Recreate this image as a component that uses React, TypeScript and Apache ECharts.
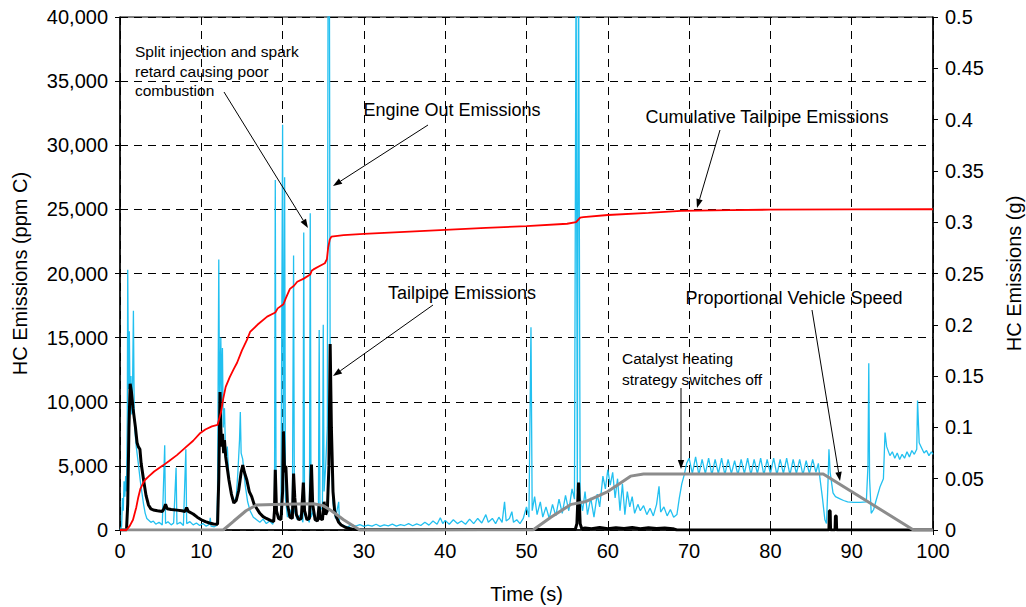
import React, { useEffect, useRef } from "react";
import * as echarts from "echarts";

// Engine out HC (ppm C) : [time s, value]
const engineOut: [number, number][] = [
  [0, 0], [0.2, 300], [0.3, 2500], [0.4, 1500], [0.5, 3800], [0.6, 2600], [0.7, 4200], [0.8, 3000],
  [0.9, 9000], [0.95, 20300], [1.05, 11000], [1.15, 15500], [1.25, 9500], [1.35, 12000], [1.45, 9000],
  [1.55, 11500], [1.65, 17100], [1.75, 9000], [1.85, 7600], [2.0, 6500], [2.25, 5200], [2.5, 3800],
  [2.7, 2900], [2.9, 2000], [3.1, 1300], [3.3, 900], [3.5, 780], [3.8, 600], [4.1, 700], [4.4, 450],
  [4.8, 600], [5.2, 400], [5.5, 6600], [5.6, 500], [5.9, 650], [6.3, 400], [6.6, 550], [6.9, 4850],
  [7.0, 450], [7.4, 600], [7.8, 350], [8.1, 6300], [8.2, 500], [8.6, 650], [9.0, 400], [9.4, 550],
  [9.8, 350], [10.2, 500], [10.6, 300], [11.0, 450], [11.1, 950], [11.2, 300], [11.6, 250], [11.9, 350],
  [12.0, 3000], [12.15, 21100], [12.25, 9000], [12.4, 15000], [12.5, 10000], [12.6, 14200], [12.7, 8000],
  [12.85, 9500], [13.0, 5500], [13.2, 6500], [13.4, 4000], [13.7, 3000], [14.0, 2200], [14.3, 2600],
  [14.5, 4500], [14.7, 7000], [14.8, 9200], [14.9, 6000], [15.1, 5500], [15.4, 3500], [15.7, 2200],
  [16.0, 1500], [16.4, 1000], [16.8, 800], [17.2, 600], [17.6, 850], [18.0, 500], [18.4, 700], [18.8, 450],
  [19.0, 1200], [19.1, 27300], [19.2, 2000], [19.5, 800], [19.8, 1200], [20.0, 31600], [20.1, 3000],
  [20.25, 27500], [20.35, 2500], [20.6, 1000], [20.9, 1600], [21.2, 900], [21.35, 21400], [21.45, 1500],
  [21.8, 800], [22.2, 1200], [22.5, 600], [22.6, 23200], [22.7, 1200], [23.0, 900], [23.3, 600],
  [23.4, 24700], [23.5, 1000], [23.8, 1500], [24.1, 700], [24.4, 900], [24.5, 15600], [24.6, 1500],
  [24.9, 1800], [25.0, 16000], [25.1, 3000], [25.3, 5000], [25.5, 8000], [25.6, 45000], [25.75, 45000],
  [25.85, 12000], [26.0, 6000], [26.2, 2100], [26.5, 900], [26.9, 2200], [27.0, 500], [27.5, 350],
  [28.0, 250], [28.5, 400], [29, 300], [29.5, 420], [30, 280], [30.5, 380], [31, 300], [31.5, 450],
  [32, 280], [32.5, 400], [33, 320], [33.5, 460], [34, 300], [34.5, 420], [35, 350], [35.5, 500],
  [36, 330], [36.5, 480], [37, 350], [37.5, 600], [38, 380], [38.5, 700], [39, 450], [39.4, 950],
  [39.7, 500], [40, 750], [40.5, 450], [41, 800], [41.5, 500], [42, 700], [42.5, 450], [43, 850],
  [43.5, 500], [44, 900], [44.5, 550], [45, 1200], [45.3, 600], [45.8, 900], [46.2, 500], [46.6, 1000],
  [47.0, 600], [47.3, 2200], [47.5, 700], [47.9, 900], [48.2, 1430], [48.4, 600], [48.8, 800], [49.2, 500],
  [49.6, 900], [50.0, 1800], [50.3, 1000], [50.55, 15800], [50.7, 1500], [51.0, 2600], [51.3, 1200],
  [51.7, 2200], [52.0, 1000], [52.4, 1800], [52.8, 900], [53.2, 2000], [53.6, 1100], [54.0, 2400],
  [54.4, 1300], [54.8, 2700], [55.2, 1500], [55.6, 3200], [55.9, 2400], [56.1, 45000], [56.25, 3000],
  [56.4, 45000], [56.6, 2500], [56.9, 1500], [57.2, 3000], [57.5, 1200], [57.9, 2500], [58.3, 1000],
  [58.7, 2800], [59.0, 1800], [59.4, 4200], [59.7, 3200], [60.0, 4700], [60.3, 3500], [60.6, 4500],
  [60.9, 2500], [61.2, 4000], [61.5, 1500], [61.8, 3600], [62.1, 1200], [62.4, 3000], [62.7, 1800],
  [63.0, 2600], [63.3, 1300], [63.7, 2000], [64.0, 1500], [64.4, 1900], [64.8, 1200], [65.2, 1700],
  [65.6, 1100], [66.0, 2000], [66.3, 3400], [66.5, 1400], [66.9, 1800], [67.3, 1100], [67.7, 1600],
  [68.1, 1000], [68.5, 1200], [68.8, 2500], [69.1, 3600], [69.4, 4300], [69.7, 5200], [70.0, 5600],
  [70.4, 4400], [70.8, 5700], [71.2, 4300], [71.6, 5500], [72.0, 4400], [72.4, 5600], [72.8, 4300],
  [73.2, 5500], [73.6, 4400], [74.0, 5600], [74.4, 4300], [74.8, 5500], [75.2, 4400], [75.6, 5400],
  [76.0, 4300], [76.4, 5500], [76.8, 4400], [77.2, 5600], [77.6, 4300], [78.0, 5500], [78.4, 4400],
  [78.8, 5600], [79.2, 4300], [79.6, 5500], [80.0, 4400], [80.4, 5600], [80.8, 4300], [81.2, 5500],
  [81.6, 4400], [82.0, 5600], [82.4, 4300], [82.8, 5500], [83.2, 4400], [83.6, 5500], [84.0, 4300],
  [84.4, 5400], [84.8, 4400], [85.2, 5500], [85.6, 4500], [85.9, 5200], [86.1, 4000], [86.4, 2500],
  [86.7, 800], [86.9, 500], [87.1, 4000], [87.2, 6300], [87.35, 4500], [87.7, 2900], [88.0, 2600],
  [88.5, 2450], [89.0, 2300], [89.5, 2200], [90.2, 2150], [91.0, 2150], [91.8, 2200], [92.0, 5000],
  [92.1, 13000], [92.2, 4000], [92.4, 1300], [92.7, 1600], [93.0, 2300], [93.5, 3400], [93.9, 4000],
  [94.1, 7600], [94.3, 6500], [94.7, 5800], [95.0, 6100], [95.3, 5600], [95.6, 6000], [95.9, 5500],
  [96.2, 5900], [96.5, 5600], [96.8, 6100], [97.1, 5700], [97.4, 6200], [97.7, 5900], [98.0, 6300],
  [98.1, 10100], [98.3, 6800], [98.6, 6400], [98.9, 6000], [99.2, 6200], [99.5, 5800], [99.8, 6100],
  [100, 5900],
];

// Tailpipe HC (ppm C)
const tailpipe: [number, number][] = [
  [0, 0], [0.8, 0], [0.95, 2000], [1.1, 8000], [1.25, 11400], [1.4, 10800], [1.6, 9500], [1.9, 8000],
  [2.1, 6800], [2.25, 6500], [2.45, 6300], [2.6, 5200], [2.9, 3900], [3.2, 2700], [3.5, 1950], [3.8, 1650],
  [4.1, 1560], [4.6, 1500], [5.2, 1450], [5.4, 1650], [5.6, 2000], [5.8, 1650], [6.3, 1600], [7.0, 1550],
  [7.6, 1500], [8.0, 1450], [8.2, 1750], [8.4, 1450], [9.0, 1250], [9.5, 1000], [10.0, 800], [10.5, 650],
  [11.0, 550], [11.5, 470], [12.0, 450], [12.15, 4000], [12.3, 10750], [12.4, 8000], [12.5, 6500],
  [12.6, 7500], [12.75, 6000], [12.85, 7000], [13.0, 5700], [13.2, 4800], [13.4, 3900], [13.7, 2800],
  [14.0, 2100], [14.3, 2300], [14.6, 3100], [14.9, 4500], [15.1, 5070], [15.3, 4500], [15.6, 3900],
  [15.9, 3000], [16.2, 2600], [16.5, 2000], [16.8, 1700], [17.2, 1300], [17.6, 1040], [18.0, 900],
  [18.5, 750], [18.9, 650], [19.0, 1500], [19.1, 4700], [19.25, 1500], [19.5, 900], [19.8, 800],
  [20.0, 3000], [20.1, 7700], [20.25, 4500], [20.4, 5000], [20.6, 2000], [20.9, 1000], [21.2, 900],
  [21.35, 4400], [21.5, 2500], [21.7, 1200], [22.0, 800], [22.3, 900], [22.55, 3700], [22.7, 1500],
  [23.0, 800], [23.3, 900], [23.55, 5100], [23.7, 2000], [24.0, 800], [24.3, 700], [24.5, 2000],
  [24.6, 900], [24.9, 800], [25.1, 2200], [25.3, 1200], [25.5, 1500], [25.7, 5000], [25.85, 14500],
  [26.0, 8000], [26.2, 3000], [26.4, 1500], [26.6, 1040], [26.9, 600], [27.2, 390], [27.6, 250],
  [28.0, 150], [28.7, 50], [29.5, 20], [35, 20], [45, 30], [50, 40], [56.0, 40], [56.2, 500],
  [56.4, 3700], [56.6, 500], [56.8, 100], [57.2, 150], [58, 100], [59, 200], [60, 100], [61, 180],
  [62, 120], [63, 200], [64, 100], [65, 180], [66, 120], [67, 150], [68, 100], [68.5, 0], [87.2, 0],
  [87.25, 1500], [87.35, 1500], [87.4, 0], [87.95, 0], [88.0, 1100], [88.1, 1100], [88.15, 0], [100, 0],
];

// Cumulative tailpipe HC (g)
const cumulative: [number, number][] = [
  [0, 0], [0.8, 0], [1.2, 0.004], [1.6, 0.01], [2.0, 0.022], [2.25, 0.032], [2.5, 0.04], [2.8, 0.045],
  [3.1, 0.049], [3.5, 0.052], [4.2, 0.057], [5.3, 0.063], [6.0, 0.067], [7.0, 0.073], [8.0, 0.08],
  [9.0, 0.087], [9.8, 0.094], [10.5, 0.098], [11.3, 0.101], [12.0, 0.1025], [12.4, 0.114], [12.7, 0.128],
  [13.0, 0.1395], [13.5, 0.149], [14.0, 0.157], [14.4, 0.163], [15.0, 0.175], [15.6, 0.185], [16.0, 0.193],
  [16.9, 0.2], [18.1, 0.208], [19.1, 0.212], [19.4, 0.216], [20.1, 0.22], [20.4, 0.226], [20.9, 0.235],
  [21.4, 0.238], [21.8, 0.242], [22.6, 0.245], [23.4, 0.249], [23.6, 0.253], [23.8, 0.254], [24.5, 0.257],
  [25.2, 0.26], [25.45, 0.264], [25.6, 0.275], [25.8, 0.283], [26.0, 0.286], [27.5, 0.2875], [30, 0.2886],
  [35, 0.2905], [40, 0.2925], [45, 0.2945], [50, 0.2962], [55, 0.2985], [56.1, 0.3], [56.6, 0.3045],
  [57, 0.305], [60, 0.307], [65, 0.309], [69, 0.311], [75, 0.3118], [80, 0.3122], [90, 0.3125], [100, 0.3126],
];

// Proportional vehicle speed (plotted on ppm scale)
const speed: [number, number][] = [
  [0, 0], [12.7, 0], [14, 700], [15.5, 1500], [16.8, 1950], [20, 2000], [23.8, 2050], [25, 1900],
  [26, 1500], [27.5, 800], [29.5, 0], [50.8, 0], [53, 1000], [55.5, 2000], [57.2, 2200], [60, 3000],
  [62.8, 4200], [64.4, 4370], [86.5, 4370], [97.6, 0], [100, 0],
];

const FONT = "'Liberation Sans', Arial, sans-serif";

function arrow(x1: number, y1: number, x2: number, y2: number) {
  const dx = x2 - x1, dy = y2 - y1;
  const L = Math.hypot(dx, dy);
  const ux = dx / L, uy = dy / L;
  const hl = 9, hw = 3.2;
  const bx = x2 - ux * hl, by = y2 - uy * hl;
  return [
    { type: "line", z: 100, shape: { x1, y1, x2: bx, y2: by }, style: { stroke: "#000", lineWidth: 1 } },
    {
      type: "polygon", z: 100,
      shape: { points: [[x2, y2], [bx - uy * hw, by + ux * hw], [bx + uy * hw, by - ux * hw]] },
      style: { fill: "#000" },
    },
  ];
}

function label(text: string, x: number, y: number, size: number, align: string = "center", lineHeight?: number) {
  return {
    type: "text", z: 100, x, y,
    style: {
      text, fill: "#000", font: `${size}px ${FONT}`, align, verticalAlign: "middle",
      lineHeight: lineHeight ?? size * 1.2,
    },
  };
}

export default function App() {
  const ref = useRef<HTMLDivElement>(null);
  useEffect(() => {
    document.body.style.margin = "0";
    const chart = echarts.init(ref.current!, null, { renderer: "svg" });
    const dashed = { color: "#000", width: 1, type: [8, 6] as any };
    const axisLabel = { color: "#000", fontSize: 20, fontFamily: FONT };
    chart.setOption({
      animation: false,
      backgroundColor: "#fff",
      grid: {
        left: 120, right: 93, top: 17, bottom: 77, show: true, borderColor: "#000", borderWidth: 1,
        containLabel: false, outerBoundsMode: "none",
      },
      xAxis: {
        type: "value", min: 0, max: 100, interval: 10,
        name: "Time (s)", nameLocation: "middle", nameGap: 54,
        nameTextStyle: { color: "#000", fontSize: 20, fontFamily: FONT },
        axisLine: { lineStyle: { color: "#000", width: 1.5 } },
        axisTick: { show: true, length: 5, lineStyle: { color: "#000" } },
        axisLabel: { ...axisLabel, margin: 11 },
        splitLine: { show: true, lineStyle: dashed },
      },
      yAxis: [
        {
          type: "value", min: 0, max: 40000, interval: 5000,
          name: "HC Emissions (ppm C)", nameLocation: "middle", nameGap: 90,
          nameTextStyle: { color: "#000", fontSize: 20, fontFamily: FONT },
          axisLine: { show: true, lineStyle: { color: "#000", width: 1.5 } },
          axisTick: { show: true, length: 5, lineStyle: { color: "#000" } },
          axisLabel: { ...axisLabel, margin: 12, formatter: (v: number) => v.toLocaleString("en-US") },
          splitLine: { show: true, lineStyle: dashed },
        },
        {
          type: "value", min: 0, max: 0.5, interval: 0.05, position: "right",
          name: "HC Emissions (g)", nameLocation: "middle", nameGap: 71,
          nameTextStyle: { color: "#000", fontSize: 20, fontFamily: FONT },
          axisLine: { show: true, lineStyle: { color: "#000", width: 1.5 } },
          axisTick: { show: true, length: 5, lineStyle: { color: "#000" } },
          axisLabel: { ...axisLabel, margin: 12, formatter: (v: number) => String(+v.toFixed(2)) },
          splitLine: { show: false },
        },
      ],
      series: [
        {
          name: "Engine Out Emissions", type: "line", data: engineOut, showSymbol: false, yAxisIndex: 0,
          lineStyle: { color: "#22C0F0", width: 1.3 }, z: 2,
        },
        {
          name: "Tailpipe Emissions", type: "line", data: tailpipe, showSymbol: false, yAxisIndex: 0,
          lineStyle: { color: "#000", width: 3 }, z: 3,
        },
        {
          name: "Proportional Vehicle Speed", type: "line", data: speed, showSymbol: false, yAxisIndex: 0,
          lineStyle: { color: "#8C8C8C", width: 3 }, z: 4,
        },
        {
          name: "Cumulative Tailpipe Emissions", type: "line", data: cumulative, showSymbol: false, yAxisIndex: 1,
          lineStyle: { color: "#FF0000", width: 1.8 }, z: 5,
        },
      ],
      graphic: [
        label("Split injection and spark\nretard causing poor\ncombustion", 135, 71, 15.5, "left", 19.5),
        label("Engine Out Emissions", 452, 110, 18),
        label("Tailpipe Emissions", 462, 293, 18),
        label("Cumulative Tailpipe Emissions", 767, 117, 18),
        label("Proportional Vehicle Speed", 794, 298, 18),
        label("Catalyst heating\nstrategy switches off", 622, 369, 15.5, "left", 21),
        ...arrow(224, 92, 308, 228),
        ...arrow(428, 125, 333, 186),
        ...arrow(433, 305, 333, 376),
        ...arrow(720, 130, 697, 208),
        ...arrow(812, 310, 840, 481),
        ...arrow(681, 388, 681, 469),
      ],
    });
    return () => chart.dispose();
  }, []);
  return <div ref={ref} style={{ width: 1026, height: 607 }} />;
}
